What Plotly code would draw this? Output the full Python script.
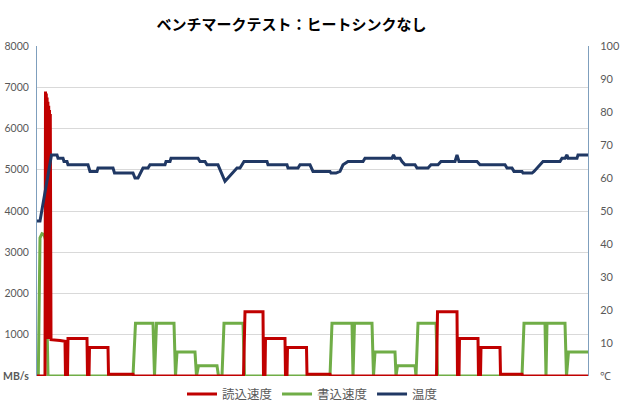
import plotly.graph_objects as go

read_t = [0, 8, 8.5, 8.9, 9.3, 9.7, 10.1, 10.5, 10.9, 11.3, 11.7, 12.1, 12.5, 12.9, 13.3, 14, 23, 28, 28.5, 30.5, 31,
          50, 50.5, 52, 52.5, 71, 71.5, 96, 96.5,
          206.5, 208, 226, 226.5, 228, 228.5, 248, 248.5, 250, 250.5, 269.5, 270, 293, 293.5,
          399.5, 400.5, 420, 420.5, 422, 422.5, 441, 441.5, 443.5, 444, 463, 463.5, 485, 485.5, 551]
read_v = [0, 0, 6900, 900, 6850, 900, 6750, 900, 6650, 900, 6550, 900, 6450, 900, 6350, 880, 860, 840, 0, 0, 910,
          910, 0, 0, 690, 690, 40, 40, 0,
          0, 1560, 1560, 0, 0, 910, 910, 0, 0, 690, 690, 40, 40, 0,
          0, 1560, 1560, 0, 0, 910, 910, 0, 0, 690, 690, 40, 40, 0, 0]

write_t = [0, 1.3, 3, 5, 7, 8.5, 11, 96, 98.5, 116, 117.5, 119.5, 137, 138.5, 140, 158, 159.5, 161.5, 180, 181.5,
           185, 187, 206, 207.5, 293, 295, 315, 316, 317.5, 335, 336.5, 338, 358, 359, 360.5, 378, 379, 381, 399, 400.5,
           485, 487, 508, 509, 510, 528, 529.5, 531.5, 551]
write_v = [0, 0, 3350, 3450, 3430, 3300, 0, 0, 1280, 1280, 0, 1280, 1280, 0, 580, 580, 0, 250, 250, 0,
           0, 1280, 1280, 0, 0, 1280, 1280, 0, 1280, 1280, 0, 580, 580, 0, 250, 250, 0, 1280, 1280, 0,
           0, 1280, 1280, 0, 1280, 1280, 0, 580, 580]

temp_t = [0, 3, 14.5, 20, 21, 26, 27, 30, 31, 51, 53, 60, 61, 76, 77.5, 96, 98, 101, 106, 111, 113, 128, 129, 133,
          134, 161, 163, 168, 170, 181, 188, 200, 203, 205, 207, 230, 231, 250, 251, 261, 263, 273, 276, 293, 294, 299,
          303, 306, 311, 326, 328, 355, 356.5, 358, 363, 365, 368, 378, 380, 391, 394, 401, 404, 418, 420, 422, 440,
          443, 468, 470, 475, 477, 485, 486, 495, 497, 500, 503, 506, 523, 525, 528, 530, 531, 540, 541, 551]
temp_v = [47, 47, 67, 67, 66, 66, 65, 65, 64, 64, 62, 62, 63, 63, 61.5, 61.5, 60, 60, 63, 63, 64, 64, 65, 65,
          66, 66, 65, 65, 64, 64, 59, 63, 63, 64, 65, 65, 64, 64, 63, 63, 64, 64, 62, 62, 61.5, 61.5,
          62, 64, 65, 65, 66, 66, 67, 66, 66, 65, 64, 64, 63, 63, 64, 64, 65, 65, 67, 65, 65,
          64, 64, 63, 63, 62, 62, 61.5, 61.5, 62, 63, 64, 65, 65, 66, 66, 67, 66, 66, 67, 67]

left_ticks = [0, 1000, 2000, 3000, 4000, 5000, 6000, 7000, 8000]
left_text = ["<b>MB/s</b>", "1000", "2000", "3000", "4000", "5000", "6000", "7000", "8000"]
right_ticks = [0, 10, 20, 30, 40, 50, 60, 70, 80, 90, 100]
right_text = ["℃", "10", "20", "30", "40", "50", "60", "70", "80", "90", "100"]

font = "Noto Sans CJK JP"
tick_font = "Lato"
grey = "#595959"
axis_col = "#7f9fbd"

fig = go.Figure()
fig.add_trace(go.Scatter(x=write_t, y=write_v, mode="lines", name="書込速度", legendrank=2,
                         line=dict(color="#70ad47", width=3)))
fig.add_trace(go.Scatter(x=read_t, y=read_v, mode="lines", name="読込速度", legendrank=1,
                         line=dict(color="#c00000", width=3)))
fig.add_trace(go.Scatter(x=temp_t, y=temp_v, mode="lines", name="温度", legendrank=3, yaxis="y2",
                         line=dict(color="#203864", width=3)))

fig.update_layout(
    width=620, height=405,
    margin=dict(l=37, r=32, t=46, b=29, autoexpand=False),
    paper_bgcolor="white", plot_bgcolor="white",
    font=dict(family=font, size=12, color=grey),
    title=dict(text="<b>ベンチマークテスト：ヒートシンクなし</b>", x=0.47, xanchor="center",
               y=0.94, yanchor="middle", font=dict(size=15, color="black", family=font),
               automargin=False),
    xaxis=dict(range=[0, 551], showticklabels=False, showgrid=False, zeroline=False, ticks="",
               showline=False, automargin=False),
    yaxis=dict(range=[0, 8000], tickvals=left_ticks, ticktext=left_text, showgrid=True,
               gridcolor="#d9d9d9", gridwidth=1, zeroline=False, showline=True, linecolor=axis_col,
               linewidth=1, ticks="", ticklabelstandoff=5, automargin=False,
               tickfont=dict(family=tick_font, size=10.5, color=grey)),
    yaxis2=dict(range=[0, 100], overlaying="y", side="right", tickvals=right_ticks, ticktext=right_text,
                showgrid=False, zeroline=False, showline=True, linecolor=axis_col, linewidth=1, ticks="",
                ticklabelstandoff=9, automargin=False, tickfont=dict(family=tick_font, size=11, color=grey)),
    legend=dict(orientation="h", x=0.5, xanchor="center", y=-0.01, yanchor="top",
                font=dict(size=12.5, color=grey, family=font), itemwidth=30, traceorder="normal"),
    showlegend=True,
)

fig.write_html("out.html", config={"displayModeBar": False},
               post_script="document.body.style.margin='0';")
